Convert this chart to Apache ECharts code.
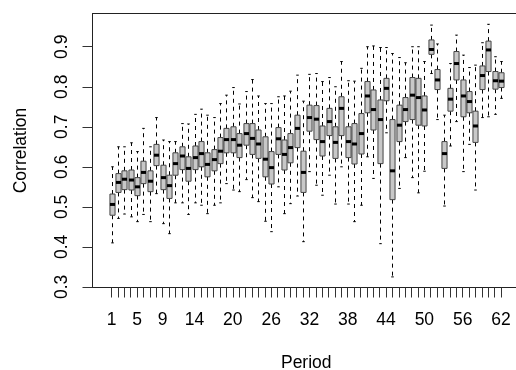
<!DOCTYPE html>
<html lang="en">

<head>
  <meta charset="UTF-8">
  <title>Correlation by period</title>
  <style>html, body { margin: 0; padding: 0; background: #fff; }</style>
</head>

<body>
  <div id="main" style="width:516px;height:370px;"></div>

  <script src="https://cdn.jsdelivr.net/npm/echarts@6/dist/echarts.min.js"></script>
  <script>
    // one entry per period
    var periods = [1, 2, 3, 4, 5, 6, 7, 8, 9, 10, 11, 12, 13, 14, 15, 16, 17, 18, 19, 20,
      21, 22, 23, 24, 25, 26, 27, 28, 29, 30, 31, 32, 33, 34, 35, 36, 37, 38, 39, 40,
      41, 42, 43, 44, 45, 46, 47, 48, 49, 50, 51, 52, 53, 54, 55, 56, 57, 58, 59, 60, 61, 62]

    var lower = [0.410, 0.471, 0.482, 0.475, 0.463, 0.481, 0.463, 0.533, 0.458, 0.433,
      0.510, 0.510, 0.481, 0.510, 0.504, 0.483, 0.504, 0.510, 0.558, 0.542,
      0.538, 0.568, 0.523, 0.513, 0.464, 0.438, 0.550, 0.483, 0.508, 0.527,
      0.413, 0.588, 0.554, 0.529, 0.579, 0.507, 0.600, 0.507, 0.463, 0.504,
      0.625, 0.571, 0.408, 0.685, 0.325, 0.546, 0.623, 0.573, 0.535, 0.589,
      0.833, 0.718, 0.502, 0.652, 0.713, 0.588, 0.656, 0.542, 0.723, 0.725, 0.731, 0.771]

    var q1 = [0.479, 0.536, 0.543, 0.542, 0.528, 0.558, 0.538, 0.603, 0.543, 0.521,
      0.579, 0.593, 0.564, 0.593, 0.600, 0.575, 0.590, 0.608, 0.635, 0.635,
      0.623, 0.654, 0.631, 0.621, 0.575, 0.557, 0.631, 0.592, 0.610, 0.648,
      0.536, 0.689, 0.668, 0.627, 0.678, 0.621, 0.678, 0.623, 0.607, 0.632,
      0.735, 0.692, 0.608, 0.765, 0.518, 0.663, 0.713, 0.718, 0.704, 0.702,
      0.881, 0.793, 0.596, 0.739, 0.817, 0.725, 0.735, 0.661, 0.793, 0.838, 0.794, 0.798]

    var median = [0.506, 0.561, 0.569, 0.567, 0.550, 0.586, 0.564, 0.629, 0.573, 0.553,
      0.608, 0.627, 0.596, 0.623, 0.633, 0.606, 0.618, 0.639, 0.668, 0.668,
      0.654, 0.683, 0.671, 0.657, 0.619, 0.598, 0.670, 0.631, 0.648, 0.696,
      0.586, 0.723, 0.719, 0.663, 0.713, 0.661, 0.746, 0.663, 0.657, 0.683,
      0.777, 0.743, 0.718, 0.796, 0.590, 0.704, 0.743, 0.779, 0.773, 0.742,
      0.893, 0.817, 0.633, 0.769, 0.858, 0.777, 0.763, 0.702, 0.828, 0.892, 0.815, 0.814]

    var q3 = [0.532, 0.583, 0.590, 0.592, 0.573, 0.614, 0.590, 0.656, 0.604, 0.579,
      0.635, 0.650, 0.625, 0.652, 0.663, 0.635, 0.643, 0.673, 0.696, 0.700,
      0.683, 0.708, 0.708, 0.692, 0.675, 0.638, 0.698, 0.667, 0.683, 0.729,
      0.639, 0.754, 0.753, 0.702, 0.746, 0.700, 0.775, 0.700, 0.708, 0.733,
      0.813, 0.792, 0.767, 0.821, 0.718, 0.754, 0.773, 0.823, 0.821, 0.777,
      0.917, 0.843, 0.663, 0.796, 0.888, 0.817, 0.788, 0.739, 0.852, 0.914, 0.838, 0.835]

    var upper = [0.600, 0.650, 0.650, 0.660, 0.638, 0.696, 0.650, 0.723, 0.667, 0.663,
      0.663, 0.708, 0.707, 0.731, 0.744, 0.729, 0.723, 0.758, 0.779, 0.798,
      0.757, 0.788, 0.818, 0.777, 0.758, 0.758, 0.775, 0.777, 0.789, 0.829,
      0.764, 0.831, 0.833, 0.813, 0.823, 0.800, 0.863, 0.815, 0.814, 0.846,
      0.900, 0.902, 0.898, 0.898, 0.883, 0.873, 0.860, 0.900, 0.900, 0.863,
      0.954, 0.907, 0.729, 0.858, 0.929, 0.879, 0.848, 0.854, 0.910, 0.956, 0.875, 0.863]

    var xLabels = [1, 5, 9, 14, 20, 26, 32, 38, 44, 50, 56, 62]
    var yTicks = [0.3, 0.4, 0.5, 0.6, 0.7, 0.8, 0.9]

    var rows = periods.map(function (p, i) {
      return [p, lower[i], q1[i], median[i], q3[i], upper[i]]
    })

    var font = "'Liberation Sans', Arial, sans-serif"

    // R style box: dashed whiskers, staples, grey box, thick median
    function renderBox(params, api) {
      var p = api.value(0)
      var lo = api.coord([p, api.value(1)])
      var b1 = api.coord([p, api.value(2)])
      var md = api.coord([p, api.value(3)])
      var b3 = api.coord([p, api.value(4)])
      var hi = api.coord([p, api.value(5)])
      var w = api.size([0.8, 0])[0]
      var x = Math.round(md[0]) + 0.5
      var solid = { stroke: '#000', lineWidth: 1 }
      var dash = { stroke: '#000', lineWidth: 1, lineDash: [4, 4] }
      return {
        type: 'group',
        children: [
          { type: 'line', shape: { x1: x, y1: b3[1], x2: x, y2: hi[1] }, style: dash },
          { type: 'line', shape: { x1: x, y1: b1[1], x2: x, y2: lo[1] }, style: dash },
          { type: 'line', shape: { x1: x - w / 4, y1: hi[1], x2: x + w / 4, y2: hi[1] }, style: solid },
          { type: 'line', shape: { x1: x - w / 4, y1: lo[1], x2: x + w / 4, y2: lo[1] }, style: solid },
          {
            type: 'rect',
            shape: { x: x - w / 2, y: b3[1], width: w, height: b1[1] - b3[1] },
            style: { fill: '#c8c8c8', stroke: '#444', lineWidth: 1 }
          },
          { type: 'line', shape: { x1: x - w / 2, y1: md[1], x2: x + w / 2, y2: md[1] }, style: { stroke: '#000', lineWidth: 3 } }
        ]
      }
    }

    var myChart = echarts.init(document.getElementById('main'))

    var options = {
      animation: false,
      grid: {
        left: 92.5,
        right: -4,
        top: 13.5,
        bottom: 82.5,
        outerBoundsMode: 'none',
        show: true,
        borderColor: '#222',
        borderWidth: 1
      },
      xAxis: {
        type: 'value',
        min: -1.98,
        max: 64.98,
        name: 'Period',
        nameLocation: 'middle',
        nameGap: 67,
        nameTextStyle: { color: '#000', fontSize: 17.5, fontFamily: font },
        axisLine: { show: true, onZero: false, lineStyle: { color: '#222' } },
        axisTick: { show: true, length: 10, customValues: periods, lineStyle: { color: '#333' } },
        axisLabel: {
          customValues: xLabels,
          margin: 24,
          color: '#000',
          fontSize: 17.5,
          fontFamily: font
        },
        splitLine: { show: false }
      },
      yAxis: {
        type: 'value',
        min: 0.2985,
        max: 0.983,
        name: 'Correlation',
        nameLocation: 'middle',
        nameRotate: 90,
        nameGap: 62,
        nameTextStyle: { color: '#000', fontSize: 17.5, fontFamily: font },
        axisLine: { show: true, onZero: false, lineStyle: { color: '#222' } },
        axisTick: { show: true, length: 10, customValues: yTicks, lineStyle: { color: '#333' } },
        axisLabel: {
          customValues: yTicks,
          rotate: 90,
          margin: 21,
          color: '#000',
          fontSize: 17.5,
          fontFamily: font,
          formatter: function (v) { return v.toFixed(1) }
        },
        splitLine: { show: false }
      },
      series: [
        {
          type: 'custom',
          renderItem: renderBox,
          encode: { x: 0, y: [1, 2, 3, 4, 5] },
          data: rows,
          silent: true
        }
      ]
    }
    myChart.setOption(options)
  </script>
</body>

</html>
